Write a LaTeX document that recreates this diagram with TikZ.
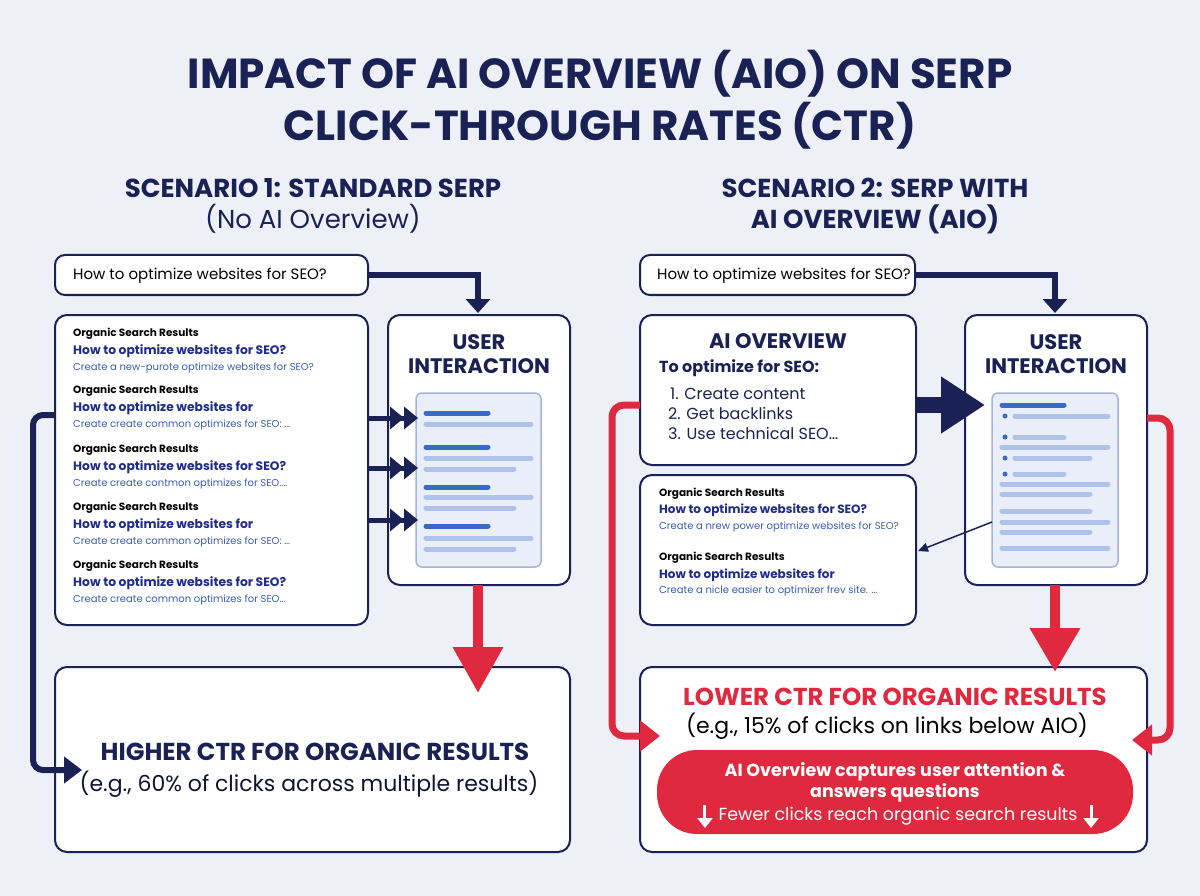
\documentclass[tikz,border=0pt]{standalone}
\usepackage{fontspec}
\setmainfont{Poppins}
\usetikzlibrary{arrows.meta,positioning}
\definecolor{navy}{HTML}{1A2255}
\definecolor{rd}{HTML}{E0293F}
\definecolor{bg}{HTML}{EEF0F8}
\definecolor{lb}{HTML}{AFC3EA}
\definecolor{db}{HTML}{3A6AC8}
\definecolor{tl}{HTML}{1F2C8C}
\definecolor{ds}{HTML}{3B5DB5}
\definecolor{docf}{HTML}{E9EEF9}
\begin{document}
\begin{tikzpicture}[x=1pt,y=-1pt,
  box/.style={draw=navy,line width=2pt,rounded corners=12pt,fill=white},
  doc/.style={draw=lb!80!gray,line width=1.5pt,rounded corners=6pt,fill=docf},
  bar/.style={line width=5pt,line cap=round},
  t/.style={inner sep=0pt,anchor=west},
  nv/.style={navy,line width=6pt},
  rl/.style={rd,line width=7pt},
  wa/.style={white,line width=3pt,-{Triangle[length=10pt,width=15pt]}}]
\fill[bg] (0,0) rectangle (1200,896);
\useasboundingbox (0,0) rectangle (1200,896);
% title
\node[font=\fontsize{42}{42}\selectfont\bfseries,navy,align=center] (title) at (600,100) {IMPACT OF AI OVERVIEW (AIO) ON SERP\\[4pt]CLICK-THROUGH RATES (CTR)};
\node[navy,align=center,font=\fontsize{26}{31}\selectfont] (s1) at (313,206) {\textbf{SCENARIO 1: STANDARD SERP}\\(No AI Overview)};
\node[navy,align=center,font=\fontsize{26}{31}\selectfont\bfseries] (s2) at (875,206) {SCENARIO 2: SERP WITH\\AI OVERVIEW (AIO)};
% ---------- left
\draw[box,rounded corners=10pt] (55,255) rectangle (368,295);
\node[t,font=\fontsize{15}{15}\selectfont] (q1) at (73,276) {How to optimize websites for SEO?};
\coordinate (q1e) at (368,275);
\draw[box] (55,315) rectangle (368,625);
\coordinate (res1) at (55,415);
\foreach \y/\a/\b in {334/{How to optimize websites for SEO?}/{Create a new-purote optimize websites for SEO?},391/{How to optimize websites for}/{Create create common optimizes for SEO: \ldots},450/{How to optimize websites for SEO?}/{Create create contmon optimizes for SEO.\ldots},508/{How to optimize websites for}/{Create create common optimizes for SEO: \ldots},566/{How to optimize websites for SEO?}/{Create create common optimizes for SEO\ldots}}{
  \node[t,font=\fontsize{10.5}{10.5}\selectfont\bfseries] at (73,\y) {Organic Search Results};
  \node[t,tl,font=\fontsize{12.3}{12.3}\selectfont\bfseries] at (73,\y+17) {\a};
  \node[t,ds,font=\fontsize{10}{10}\selectfont] at (73,\y+34) {\b};
}
\draw[box] (388,315) rectangle (570,585);
\node[font=\fontsize{21}{24}\selectfont\bfseries,navy,align=center] (u1) at (479,354) {USER\\INTERACTION};
\draw[doc] (416,393) rectangle (541,567);
\foreach \y/\e/\c in {413/488/db,424/531/lb,447/488/db,458/531/lb,469/514/lb,487/488/db,497/531/lb,508/514/lb,526/488/db,538/531/lb,549/514/lb}{
  \draw[bar,\c] (426,\y) -- (\e,\y);}
\coordinate (u1t) at (478,315);
\coordinate (u1b) at (478,585);
\draw[nv,-{Triangle[length=14pt,width=24pt]}] (q1e) -| ([yshift=2pt]u1t);
\foreach \y in {418,468,520}{
  \draw[navy,line width=5pt,-{Triangle[length=14pt,width=22pt]Triangle[length=14pt,width=22pt]}] (368,\y) -- (418,\y);}
\draw[box] (55,667) rectangle (570,852);
\node[font=\fontsize{24.5}{24.5}\selectfont\bfseries,navy] (h1) at (315,752) {HIGHER CTR FOR ORGANIC RESULTS};
\node[font=\fontsize{22}{22}\selectfont,navy!60!black] (h1b) at (309,784) {(e.g., 60\% of clicks across multiple results)};
\coordinate (b1in) at (82,770);
\draw[nv,rounded corners=10pt,-{Triangle[length=18pt,width=26pt]}] (res1) -- (33,415) -- (33,770) -- (b1in);
\draw[rl,line width=10pt,-{Triangle[length=46pt,width=48pt]}] (u1b) -- (478,693);
% ---------- right
\draw[box,rounded corners=10pt] (640,255) rectangle (915,295);
\node[t,font=\fontsize{15}{15}\selectfont] (q2) at (657,276) {How to optimize websites for SEO?};
\coordinate (q2e) at (915,275);
\draw[box] (640,315) rectangle (916,465);
\node[font=\fontsize{21}{21}\selectfont\bfseries,navy] (ai) at (778,341) {AI OVERVIEW};
\node[t,font=\fontsize{16}{16}\selectfont\bfseries,navy] at (659,368) {To optimize for SEO:};
\node[t,font=\fontsize{16}{16}\selectfont,navy] at (670,394) {1. Create content};
\node[t,font=\fontsize{16}{16}\selectfont,navy] at (668,413) {2. Get backlinks};
\node[t,font=\fontsize{16}{16}\selectfont,navy] at (668,433) {3. Use technical SEO\ldots};
\draw[box] (640,475) rectangle (916,625);
\node[t,font=\fontsize{10.5}{10.5}\selectfont\bfseries] at (659,494) {Organic Search Results};
\node[t,tl,font=\fontsize{12}{12}\selectfont\bfseries] at (659,510) {How to optimize websites for SEO?};
\node[t,ds,font=\fontsize{10}{10}\selectfont] at (659,527) {Create a nrew power optimize websites for SEO?};
\node[t,font=\fontsize{10.5}{10.5}\selectfont\bfseries] at (659,558) {Organic Search Results};
\node[t,tl,font=\fontsize{12}{12}\selectfont\bfseries] at (659,575) {How to optimize websites for};
\node[t,ds,font=\fontsize{10}{10}\selectfont] (org2) at (659,591) {Create a nicle easier to optimizer frev site. \ldots};
\coordinate (org2r) at (918,551);
\draw[box] (965,315) rectangle (1147,585);
\node[font=\fontsize{21}{24}\selectfont\bfseries,navy,align=center] (u2) at (1056,354) {USER\\INTERACTION};
\draw[doc] (992,393) rectangle (1118,567);
\draw[bar,db] (1002,405) -- (1064,405);
\foreach \y/\e/\d in {416/1108/1,437/1064/1,447/1108/0,458/1090/1,474/1064/1,484/1108/0,494/1090/0,511/1090/0,522/1108/0,532/1090/0,548/1108/0}{
  \ifnum\d=1 \fill[db] (1005,\y) circle (2.5pt); \draw[bar,lb] (1015,\y) -- (\e,\y);
  \else \draw[bar,lb] (1002,\y) -- (\e,\y); \fi}
\coordinate (u2t) at (1055,315);
\coordinate (u2l) at (985,405);
\coordinate (u2b) at (1055,585);
\coordinate (u2r) at (1147,418);
\coordinate (u2d) at (992,522);
\draw[nv,-{Triangle[length=14pt,width=24pt]}] (q2e) -| ([yshift=2pt]u2t);
\draw[navy,line width=16pt,-{Triangle[length=44pt,width=54pt]}] (916,405) -- (u2l);
\draw[navy,line width=1.5pt,-{Triangle[length=10pt,width=9pt]}] (u2d) -- (org2r);
\draw[box] (640,667) rectangle (1147,852);
\fill[rd] (657,750) [rounded corners=40pt] rectangle (1133,834);
\node[font=\fontsize{24.5}{24.5}\selectfont\bfseries,rd] (h2) at (895,697) {LOWER CTR FOR ORGANIC RESULTS};
\node[font=\fontsize{22}{22}\selectfont,black] (h2b) at (887,726) {(e.g., 15\% of clicks on links below AIO)};
\node[font=\fontsize{17.5}{21}\selectfont\bfseries,white,align=center] (p1) at (895,782) {AI Overview captures user attention \&\\answers questions};
\node[font=\fontsize{17.5}{17.5}\selectfont,white] (p2) at (898,816) {Fewer clicks reach organic search results};
\draw[wa] ([xshift=-10pt,yshift=11pt]p2.west) -- ([xshift=-10pt,yshift=-12pt]p2.west);
\draw[wa] ([xshift=10pt,yshift=11pt]p2.east) -- ([xshift=10pt,yshift=-12pt]p2.east);
\coordinate (aiL) at (640,405);
\draw[rl,rounded corners=12pt,-{Triangle[length=20pt,width=30pt]}] (aiL) -- (612,405) -- (612,736) -- (660,736);
\draw[rl,rounded corners=12pt,-{Triangle[length=20pt,width=30pt]}] (u2r) -- (1170,418) -- (1170,740) -- (1132,740);
\draw[rl,line width=10pt,-{Triangle[length=44pt,width=48pt]}] (u2b) -- (1055,672);
\end{tikzpicture}
\end{document}
